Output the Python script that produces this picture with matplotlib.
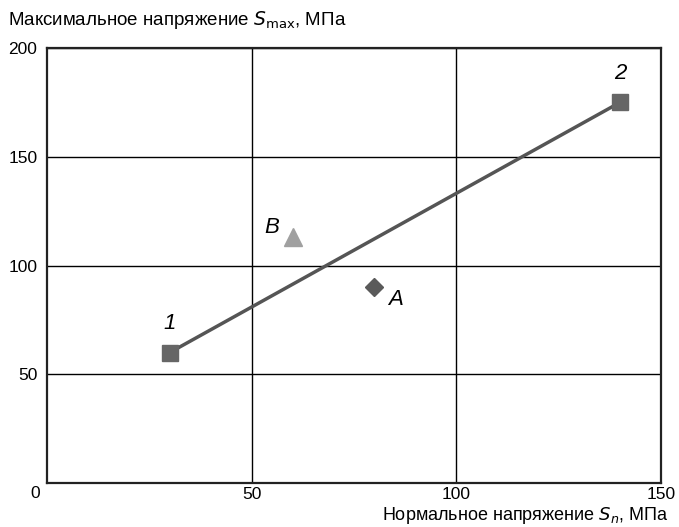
import matplotlib.pyplot as plt

plt.rcParams['font.family'] = ['Liberation Sans', 'DejaVu Sans']

# line between points 1 and 2
line_x = [30, 140]
line_y = [60, 175]
line_labels = ['1', '2']

# separate points
pt_a = (80, 90)
pt_b = (60, 113)

x_ticks = [50, 100, 150]
y_ticks = [50, 100, 150, 200]

fig = plt.figure(figsize=(6.79, 5.27), dpi=100)
ax = fig.add_axes([47 / 679, 1 - 483 / 527, (661 - 47) / 679, (483 - 48) / 527])

ax.plot(line_x, line_y, color='#555555', lw=2.5, zorder=3)
ax.plot(line_x, line_y, ls='none', marker='s', ms=11, color='#666666', zorder=4)
ax.plot(*pt_a, marker='D', ms=9, color='#5a5a5a', ls='none', zorder=4)
ax.plot(*pt_b, marker='^', ms=13, color='#a0a0a0', ls='none', zorder=4)

for x, y, lab in zip(line_x, line_y, line_labels):
    ax.annotate(lab, (x, y), xytext=(0, 13), textcoords='offset points',
                ha='center', va='bottom', fontsize=16, style='italic')
ax.annotate('A', pt_a, xytext=(15, -9), textcoords='offset points',
            ha='center', va='center', fontsize=16, style='italic')
ax.annotate('B', pt_b, xytext=(-15, 7), textcoords='offset points',
            ha='center', va='center', fontsize=16, style='italic')

ax.set_xlim(0, 150)
ax.set_ylim(0, 200)
ax.set_xticks(x_ticks)
ax.set_yticks(y_ticks)
ax.tick_params(length=0, labelsize=12.5, pad=3)
ax.tick_params(axis='y', pad=7)
ax.grid(True, color='black', lw=1)
for s in ax.spines.values():
    s.set_linewidth(1.6)
    s.set_color('#222222')

ax.text(-0.012, -0.008, '0', transform=ax.transAxes, ha='right', va='top', fontsize=12.5)

fig.text(8 / 679, 1 - 20 / 527, r'Максимальное напряжение $\mathit{S}_{\rm max}$, МПа',
         ha='left', va='center', fontsize=13.5)
fig.text(669 / 679, 1.5 / 527, r'Нормальное напряжение $\mathit{S}_{n}$, МПа',
         ha='right', va='bottom', fontsize=13)

fig.savefig('out.png', dpi=100)
